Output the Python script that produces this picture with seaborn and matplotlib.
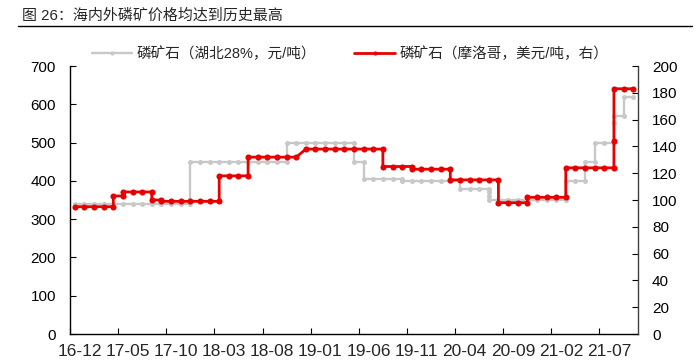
import matplotlib
matplotlib.use("Agg")
import matplotlib.pyplot as plt
import seaborn as sns
from matplotlib.lines import Line2D

# month index 0 = 2016-12; several readings may fall in the same month
hubei_month = [0, 1, 2, 3, 4, 5, 6, 7, 8, 9, 10, 11, 12,
               12, 13, 14, 15, 16, 17, 18, 19, 20, 21, 22,
               22, 23, 24, 25, 26, 27, 28, 29,
               29, 30,
               30, 31, 32, 33, 34,
               34, 35, 36, 37, 38, 39, 40,
               40, 41, 42, 43,
               43, 43,
               43, 44, 45, 46, 47, 48, 49, 50, 51,
               51, 52, 53,
               53, 54,
               54, 55, 56,
               56,
               56, 57,
               57, 58]
hubei_price = [340, 340, 340, 340, 340, 340, 340, 340, 340, 340, 340, 340, 340,
               450, 450, 450, 450, 450, 450, 450, 450, 450, 450, 450,
               500, 500, 500, 500, 500, 500, 500, 500,
               450, 450,
               405, 405, 405, 405, 405,
               400, 400, 400, 400, 400, 400, 400,
               380, 380, 380, 380,
               370, 360,
               350, 350, 350, 350, 350, 350, 350, 350, 350,
               400, 400, 400,
               450, 450,
               500, 500, 500,
               550,
               570, 570,
               620, 620]

morocco_month = [0, 1, 2, 3, 4,
                 4, 5,
                 5, 6, 7, 8,
                 8, 9,
                 9, 10, 11, 12, 13, 14, 15,
                 15, 16, 17, 18,
                 18, 19, 20, 21, 22, 23,
                 24, 25, 26, 27, 28, 29, 30, 31, 32,
                 32, 33, 34, 35,
                 35, 36, 37, 38, 39,
                 39, 40, 41, 42, 43, 44,
                 44, 45, 46, 47,
                 47, 48, 49, 50, 51,
                 51, 52, 53, 54, 55, 56,
                 56,
                 56, 57, 58]
morocco_price = [95, 95, 95, 95, 95,
                 103, 103,
                 106, 106, 106, 106,
                 100, 100,
                 99, 99, 99, 99, 99, 99, 99,
                 118, 118, 118, 118,
                 132, 132, 132, 132, 132, 132,
                 138, 138, 138, 138, 138, 138, 138, 138, 138,
                 125, 125, 125, 125,
                 123, 123, 123, 123, 123,
                 115, 115, 115, 115, 115, 115,
                 98, 98, 98, 98,
                 102, 102, 102, 102, 102,
                 124, 124, 124, 124, 124, 124,
                 144,
                 183, 183, 183]

tick_labels = ["16-12", "17-05", "17-10", "18-03", "18-08", "19-01",
               "19-06", "19-11", "20-04", "20-09", "21-02", "21-07"]
n_months = 59

title = "图 26：海内外磷矿价格均达到历史最高"
label_hubei = "磷矿石（湖北28%，元/吨）"
label_morocco = "磷矿石（摩洛哥，美元/吨，右）"

sns.set_style("ticks")
plt.rcParams["font.family"] = ["Liberation Sans", "Noto Sans CJK SC"]

gray = "#C8C8C8"
red = "#E60000"

fig = plt.figure(figsize=(7, 3.63), dpi=100)
ax = fig.add_axes([70 / 700, 1 - 334 / 363, 568 / 700, 268 / 363])

sns.lineplot(x=[m + 0.5 for m in hubei_month], y=hubei_price, ax=ax,
             estimator=None, sort=False, color=gray, linewidth=1.7,
             marker="o", markersize=3.6, markeredgewidth=0)
ax2 = ax.twinx()
sns.lineplot(x=[m + 0.5 for m in morocco_month], y=morocco_price, ax=ax2,
             estimator=None, sort=False, color=red, linewidth=2.0,
             marker="o", markersize=4.4, markeredgewidth=0)

ax.set_xlim(0, n_months)
ax.set_ylim(0, 700)
ax2.set_ylim(0, 200)
ax.set_yticks(range(0, 701, 100))
ax2.set_yticks(range(0, 201, 20))
ax.set_xticks(range(0, 56, 5))
ax.set_xticklabels([])
ax.set_xticks([m + 1 for m in range(0, 56, 5)], minor=True)
ax.set_xticklabels(tick_labels, minor=True)
for a in (ax, ax2):
    a.set_xlabel("")
    a.set_ylabel("")

ax.tick_params(axis="both", which="major", direction="in", length=4,
               width=0.8, labelsize=11, pad=10, colors="black")
ax.tick_params(axis="x", which="minor", length=0, labelsize=12.5, pad=7)
ax2.tick_params(axis="y", direction="in", length=4, width=0.8,
                labelsize=11, pad=10, colors="black")

ax.spines["top"].set_visible(False)
ax.spines["right"].set_visible(False)
for s in ("top", "left", "bottom"):
    ax2.spines[s].set_visible(False)
ax.spines["left"].set_color("black")
ax.spines["bottom"].set_color("black")
ax2.spines["right"].set_color("#404040")
for s in (ax.spines["left"], ax.spines["bottom"], ax2.spines["right"]):
    s.set_linewidth(1.0)

handles = [Line2D([], [], color=gray, linewidth=1.7, marker="o", markersize=3,
                  markeredgewidth=0),
           Line2D([], [], color=red, linewidth=2.0, marker="o", markersize=3,
                  markeredgewidth=0)]
fig.legend(handles, [label_hubei, label_morocco], loc="center",
           bbox_to_anchor=(350 / 700, 1 - 54 / 363), ncol=2, frameon=False,
           fontsize=10.5, handlelength=2.8, handletextpad=0.3,
           columnspacing=2.6)

fig.text(22 / 700, 1 - 16 / 363, title, fontsize=10.8, va="center", ha="left")
fig.add_artist(Line2D([18 / 700, 692 / 700], [1 - 26 / 363, 1 - 26 / 363],
                      color="black", linewidth=1.0))

fig.savefig("out.png", dpi=100)
